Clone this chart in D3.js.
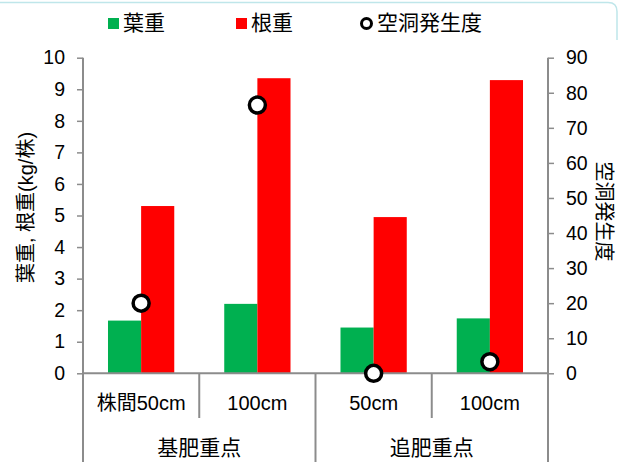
<!DOCTYPE html>
<html>
<head>
<meta charset="utf-8">
<script src="https://cdn.jsdelivr.net/npm/d3@7"></script>
<style>
  html, body { margin: 0; padding: 0; background: #fff; }
  svg { display: block; }
  text { font-family: "Liberation Sans", Arial, "Noto Sans CJK JP", sans-serif; fill: #000; }
</style>
</head>
<body>
<svg id="chart" width="620" height="462"></svg>
<script>
// Sub-categories (plant spacing) and their parent groups (fertilizer regime)
const categories = ["株間50cm", "100cm", "50cm", "100cm"];
const groups = [
  { name: "基肥重点", span: [0, 1] },
  { name: "追肥重点", span: [2, 3] }
];
const leafWeight = [1.67, 2.2, 1.45, 1.74];   // 葉重 (kg/株)
const rootWeight = [5.3, 9.35, 4.95, 9.29];   // 根重 (kg/株)
const hollowIndex = [20, 76.5, 0, 3.3];       // 空洞発生度
const leftTicks = [0, 1, 2, 3, 4, 5, 6, 7, 8, 9, 10];
const rightTicks = [0, 10, 20, 30, 40, 50, 60, 70, 80, 90];

const svg = d3.select("#chart");
const W = 620, H = 462;
const plotL = 83, plotR = 548, plotT = 57.7, plotB = 373.3;
const axisColor = "#8c8c8c";
const fs = 20;

// thin frame line along the top edge
svg.append("path")
  .attr("d", `M0,2.5 H608 Q617,2.5 617,11.5 V40`)
  .attr("fill", "none").attr("stroke", "#bfe6ea").attr("stroke-width", 1.5);

const x = d3.scaleBand().domain(d3.range(categories.length)).range([plotL, plotR]).padding(0);
const yL = d3.scaleLinear().domain([0, 10]).range([plotB, plotT]);
const yR = d3.scaleLinear().domain([0, 90]).range([plotB, plotT]);
const barW = x.bandwidth() * 0.285;

// bars
const g = svg.append("g");
g.selectAll("rect.leaf").data(leafWeight).join("rect")
  .attr("class", "leaf")
  .attr("x", (d, i) => x(i) + x.bandwidth() / 2 - barW)
  .attr("y", d => yL(d))
  .attr("width", barW)
  .attr("height", d => yL(0) - yL(d))
  .attr("fill", "#00b050");
g.selectAll("rect.root").data(rootWeight).join("rect")
  .attr("class", "root")
  .attr("x", (d, i) => x(i) + x.bandwidth() / 2)
  .attr("y", d => yL(d))
  .attr("width", barW)
  .attr("height", d => yL(0) - yL(d))
  .attr("fill", "#ff0000");

// left axis
const axL = svg.append("g").attr("transform", `translate(${plotL},0)`)
  .call(d3.axisLeft(yL).tickValues(leftTicks).tickSize(6).tickSizeOuter(0).tickPadding(12));
axL.select(".domain").remove();
axL.selectAll("line").attr("stroke", axisColor).attr("stroke-width", 1.5);
axL.selectAll("text").style("font-size", "19.5px").style("font-family", "'Liberation Sans', Arial, sans-serif");

// right axis
const axR = svg.append("g").attr("transform", `translate(${plotR},0)`)
  .call(d3.axisRight(yR).tickValues(rightTicks).tickSize(6).tickSizeOuter(0).tickPadding(12));
axR.select(".domain").remove();
axR.selectAll("line").attr("stroke", axisColor).attr("stroke-width", 1.5);
axR.selectAll("text").style("font-size", "19.5px").style("font-family", "'Liberation Sans', Arial, sans-serif");

// axis lines and category separators
const lines = svg.append("g").attr("stroke", axisColor).attr("stroke-width", 2);
lines.append("line").attr("x1", plotL).attr("x2", plotL).attr("y1", plotT).attr("y2", H);
lines.append("line").attr("x1", plotR).attr("x2", plotR).attr("y1", plotT).attr("y2", H);
lines.append("line").attr("x1", plotL).attr("x2", plotR).attr("y1", plotB).attr("y2", plotB);
d3.range(1, categories.length).forEach(i => {
  const isGroupEdge = groups.some(gr => gr.span[0] === i);
  lines.append("line").attr("x1", x(i)).attr("x2", x(i))
    .attr("y1", plotB).attr("y2", isGroupEdge ? H : 418);
});

// category labels
svg.append("g").selectAll("text").data(categories).join("text")
  .attr("x", (d, i) => x(i) + x.bandwidth() / 2)
  .attr("y", 410)
  .attr("text-anchor", "middle")
  .attr("font-size", fs)
  .text(d => d);

svg.append("g").selectAll("text").data(groups).join("text")
  .attr("x", d => (x(d.span[0]) + x(d.span[1]) + x.bandwidth()) / 2)
  .attr("y", 455)
  .attr("text-anchor", "middle")
  .attr("font-size", fs + 1)
  .text(d => d.name);

// hollow-heart index markers
svg.append("g").selectAll("circle").data(hollowIndex).join("circle")
  .attr("cx", (d, i) => x(i) + x.bandwidth() / 2)
  .attr("cy", d => yR(d))
  .attr("r", 8)
  .attr("fill", "#fff")
  .attr("stroke", "#000")
  .attr("stroke-width", 3.5);

// axis titles
svg.append("text")
  .attr("transform", `translate(33,${(plotT + plotB) / 2 - 8}) rotate(-90)`)
  .attr("text-anchor", "middle")
  .attr("font-size", fs)
  .text("葉重, 根重(kg/株)");
svg.append("text")
  .attr("transform", `translate(597,${(plotT + plotB) / 2 - 4}) rotate(90)`)
  .attr("text-anchor", "middle")
  .attr("font-size", fs)
  .text("空洞発生度");

// legend
const legend = svg.append("g").attr("font-size", fs + 1);
legend.append("rect").attr("x", 108).attr("y", 18).attr("width", 11).attr("height", 11).attr("fill", "#00b050");
legend.append("text").attr("x", 123).attr("y", 30).text("葉重");
legend.append("rect").attr("x", 236).attr("y", 18).attr("width", 11).attr("height", 11).attr("fill", "#ff0000");
legend.append("text").attr("x", 251).attr("y", 30).text("根重");
legend.append("circle").attr("cx", 366.5).attr("cy", 23.5).attr("r", 5).attr("fill", "#fff").attr("stroke", "#000").attr("stroke-width", 3);
legend.append("text").attr("x", 377).attr("y", 30).text("空洞発生度");
</script>
</body>
</html>
